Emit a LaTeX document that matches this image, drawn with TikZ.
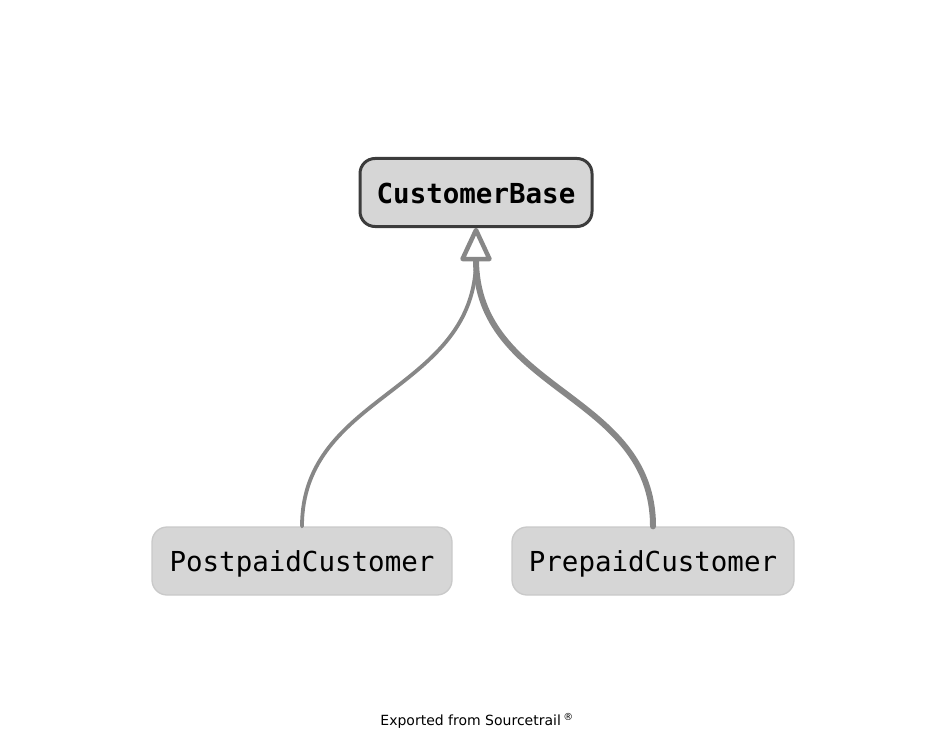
\documentclass[tikz,border=0pt]{standalone}
\usepackage{fontspec}
\setmainfont{DejaVu Sans}
\setmonofont{DejaVu Sans Mono}
\definecolor{boxfill}{HTML}{D6D6D6}
\definecolor{boxline}{HTML}{C9C9C9}
\definecolor{baseline}{HTML}{3C3C3C}
\definecolor{edgegray}{HTML}{878787}

\begin{document}
\begin{tikzpicture}[x=1pt,y=-1pt,semithick]
\tikzstyle{every node}=[inner sep=0pt]
\tikzstyle{classbox}=[draw=boxline,line width=1.3pt,fill=boxfill,rounded corners=15pt,
  minimum height=68pt,text height=26pt,text depth=6pt,font=\ttfamily\fontsize{27.5}{30}\selectfont]
\tikzstyle{basebox}=[classbox,draw=baseline,line width=3pt,text depth=4pt]
\tikzstyle{inherit}=[draw=edgegray,line cap=round,out=90,in=-90,looseness=1.07]
\useasboundingbox (0,0) rectangle (944,738);
\node[basebox,minimum width=232pt,font=\ttfamily\bfseries\fontsize{27.5}{30}\selectfont] (base) at (476,192.5) {CustomerBase};
\node[classbox,minimum width=300pt] (post) at (302,561) {PostpaidCustomer};
\node[classbox,minimum width=282pt] (pre) at (653,561) {PrepaidCustomer};
\coordinate (join) at (476,259);
\path (post.north) edge[inherit,line width=3.8pt] (join)
      (pre.north) edge[inherit,line width=6pt] (join);
% open triangle of the inheritance arrow
\draw[draw=edgegray,fill=white,line width=4.5pt,line join=round]
  (base.south) ++(0,2) -- (join -| 489.5,0) -- (join -| 462.5,0) -- cycle;
\node[font=\fontsize{14}{16}\selectfont] (footer) at (477,721) {Exported from Sourcetrail\,\textsuperscript{®}};
\end{tikzpicture}
\end{document}
